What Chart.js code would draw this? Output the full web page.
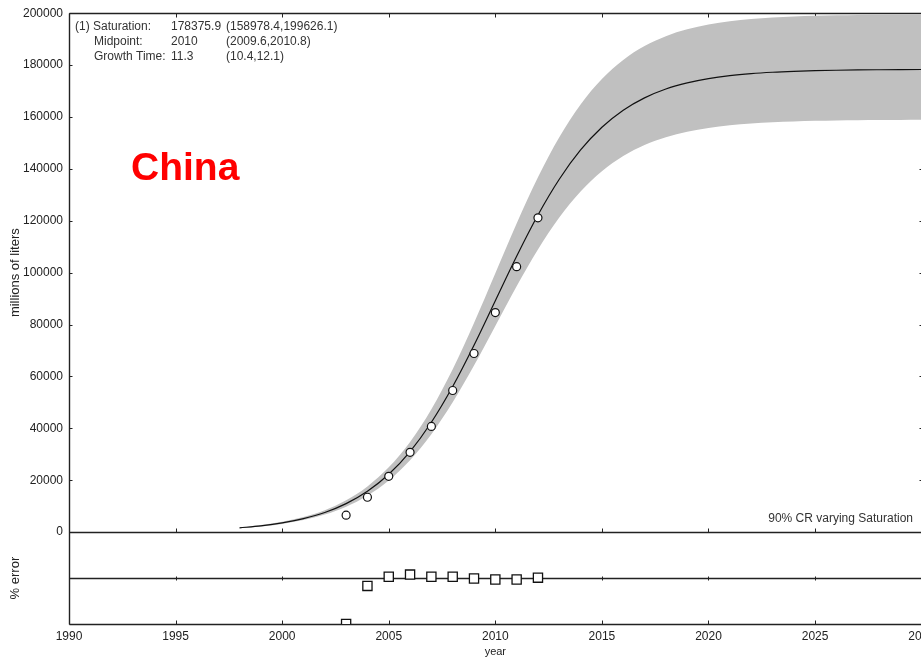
<!DOCTYPE html>
<html>
<head>
<meta charset="utf-8">
<title>China - logistic fit</title>
<script src="https://cdn.jsdelivr.net/npm/chart.js@4"></script>
<style>
  html, body { margin: 0; padding: 0; background: #fff; overflow: hidden; }
  #wrap { width: 940px; height: 657px; }
</style>
</head>
<body>
<div id="wrap"><canvas id="chart" width="940" height="657"></canvas></div>
<script>
// fitted curve, millions of liters
const fitYears = [1998, 1999, 2000, 2001, 2002, 2003, 2004, 2005, 2006, 2007, 2008,
    2009, 2010, 2011, 2012, 2013, 2014, 2015, 2016, 2017, 2018, 2019, 2020,
    2021, 2022, 2023, 2024, 2025, 2026, 2027, 2028, 2029, 2030];
const fitValues = [1660, 2440, 3580, 5230, 7590, 11000, 15760, 22320, 31080, 42370, 56140,
    72040, 89190, 106340, 122230, 136020, 147300, 156050, 162620, 167380, 170780, 173150, 174800,
    175940, 176720, 177250, 177610, 177860, 178020, 178140, 178210, 178270, 178300];
// 90% CR band (varying saturation)
const bandUpper = [1860, 2730, 4010, 5850, 8490, 12310, 17640, 24980, 34780, 47420, 62830,
    80620, 99810, 119000, 136790, 152220, 164840, 174640, 181990, 187320, 191120, 193770, 195620,
    196890, 197760, 198360, 198760, 199040, 199230, 199350, 199440, 199490, 199540];
const bandLower = [1480, 2180, 3190, 4660, 6770, 9800, 14050, 19890, 27700, 37760, 50040,
    64210, 79500, 94780, 108940, 121240, 131290, 139090, 144940, 149190, 152220, 154330, 155800,
    156820, 157510, 157980, 158300, 158520, 158670, 158770, 158840, 158890, 158920];

// observed data
const obsYears = [2003, 2004, 2005, 2006, 2007, 2008, 2009, 2010, 2011, 2012];
const obsValues = [6540, 13460, 21540, 30770, 40770, 54600, 68850, 84620, 102300, 121150];
// residuals (% error)
const errValues = [-50, -8.5, 1.5, 3.8, 1.5, 1.5, -0.5, -1.5, -1.5, 0.5];

// axes
const xTicks = [1990, 1995, 2000, 2005, 2010, 2015, 2020, 2025, 2030];
const yTicks = [0, 20000, 40000, 60000, 80000, 100000, 120000, 140000, 160000, 180000, 200000];

// texts
const fitInfo = [
    ['(1) Saturation:', '178375.9', '(158978.4,199626.1)'],
    ['Midpoint:', '2010', '(2009.6,2010.8)'],
    ['Growth Time:', '11.3', '(10.4,12.1)']
];
const bandNote = '90% CR varying Saturation';
const countryName = 'China';

const FONT = '"Liberation Sans", Arial, sans-serif';
const INK = '#222';

const toXY = (xs, ys) => xs.map((x, i) => ({ x: x, y: ys[i] }));

// frame with inner tick marks (under the markers), then text annotations
const framePlugin = {
    id: 'frame',
    beforeDatasetsDraw(chart) {
        const ctx = chart.ctx;
        const a = chart.chartArea;
        const sx = chart.scales.x, sy = chart.scales.y, se = chart.scales.y2;
        const yMain = Math.round(sy.getPixelForValue(0)) + 0.5;
        const yZero = Math.round(se.getPixelForValue(0)) + 0.5;
        const top = Math.round(a.top) + 0.5, bottom = Math.round(a.bottom) + 0.5;
        const left = Math.round(a.left) + 0.5, right = Math.round(a.right) + 0.5;

        ctx.save();
        ctx.strokeStyle = INK;
        ctx.lineWidth = 1.4;
        ctx.beginPath();
        [top, yMain, yZero, bottom].forEach(y => { ctx.moveTo(left, y); ctx.lineTo(right, y); });
        ctx.moveTo(left, top); ctx.lineTo(left, bottom);
        ctx.moveTo(right, top); ctx.lineTo(right, bottom);
        ctx.stroke();

        ctx.lineWidth = 1;
        ctx.beginPath();
        xTicks.forEach(v => {
            const x = Math.round(sx.getPixelForValue(v)) + 0.5;
            ctx.moveTo(x, top); ctx.lineTo(x, top + 4);
            ctx.moveTo(x, yMain); ctx.lineTo(x, yMain - 4);
            ctx.moveTo(x, yZero - 2); ctx.lineTo(x, yZero + 2);
            ctx.moveTo(x, bottom); ctx.lineTo(x, bottom - 4);
        });
        yTicks.forEach(v => {
            const y = Math.round(sy.getPixelForValue(v)) + 0.5;
            ctx.moveTo(left, y); ctx.lineTo(left + 3, y);
            ctx.moveTo(right, y); ctx.lineTo(right - 3, y);
        });
        ctx.stroke();
        ctx.restore();
    },
    afterDraw(chart) {
        const ctx = chart.ctx;
        const a = chart.chartArea;
        const yMain = chart.scales.y.getPixelForValue(0);

        ctx.save();
        // fit summary, top left
        ctx.fillStyle = '#333';
        ctx.font = '12px ' + FONT;
        ctx.textBaseline = 'middle';
        fitInfo.forEach((row, i) => {
            const y = a.top + 13 + i * 15;
            ctx.fillText(row[0], a.left + (i === 0 ? 6 : 25), y);
            ctx.fillText(row[1], a.left + 102, y);
            ctx.fillText(row[2], a.left + 157, y);
        });

        // band note, bottom right of main panel
        ctx.textAlign = 'right';
        ctx.fillText(bandNote, a.left + 844, yMain - 13);

        // country label
        ctx.textAlign = 'left';
        ctx.fillStyle = '#ff0000';
        ctx.font = 'bold 39px ' + FONT;
        ctx.textBaseline = 'alphabetic';
        ctx.fillText(countryName, a.left + 62, 180);
        ctx.restore();
    }
};

new Chart(document.getElementById('chart'), {
    type: 'line',
    data: {
        datasets: [
            {
                label: 'upper',
                data: toXY(fitYears, bandUpper),
                yAxisID: 'y',
                order: 5,
                borderWidth: 0,
                pointRadius: 0,
                backgroundColor: '#c0c0c0',
                fill: '+1',
                cubicInterpolationMode: 'monotone'
            },
            {
                label: 'lower',
                data: toXY(fitYears, bandLower),
                yAxisID: 'y',
                order: 4,
                borderWidth: 0,
                pointRadius: 0,
                fill: false,
                cubicInterpolationMode: 'monotone'
            },
            {
                label: 'fit',
                data: toXY(fitYears, fitValues),
                yAxisID: 'y',
                order: 2,
                borderColor: '#111',
                borderWidth: 1.2,
                pointRadius: 0,
                fill: false,
                cubicInterpolationMode: 'monotone'
            },
            {
                label: 'observed',
                data: toXY(obsYears, obsValues),
                yAxisID: 'y',
                order: 1,
                showLine: false,
                pointStyle: 'circle',
                pointRadius: 4,
                pointBorderWidth: 1.2,
                pointBorderColor: '#111',
                pointBackgroundColor: '#fff'
            },
            {
                label: '% error',
                data: toXY(obsYears, errValues),
                yAxisID: 'y2',
                order: 0,
                showLine: false,
                pointStyle: 'rect',
                pointRadius: 6.5,
                pointBorderWidth: 1.3,
                pointBorderColor: '#111',
                pointBackgroundColor: '#fff'
            }
        ]
    },
    options: {
        responsive: false,
        animation: false,
        events: [],
        layout: { padding: { left: 0, top: 12, right: 17, bottom: 0 } },
        plugins: {
            legend: { display: false },
            tooltip: { enabled: false }
        },
        scales: {
            x: {
                type: 'linear',
                min: 1990,
                max: 2030,
                grid: { display: false, drawTicks: false },
                border: { display: false },
                afterBuildTicks: s => { s.ticks = xTicks.map(v => ({ value: v })); },
                afterFit: s => { s.height = 33; },
                ticks: {
                    padding: 5,
                    color: INK,
                    font: { family: FONT, size: 12 },
                    maxRotation: 0,
                    callback: v => String(v)
                },
                title: {
                    display: true,
                    text: 'year',
                    color: INK,
                    font: { family: FONT, size: 11 },
                    padding: { top: 0, bottom: -2 }
                }
            },
            y: {
                type: 'linear',
                position: 'left',
                stack: 'panels',
                stackWeight: 520,
                weight: 1,
                min: 0,
                max: 200000,
                grid: { display: false, drawTicks: false },
                border: { display: false },
                afterBuildTicks: s => { s.ticks = yTicks.map(v => ({ value: v })); },
                afterFit: s => { s.width = 69; },
                ticks: {
                    padding: 6,
                    color: INK,
                    font: { family: FONT, size: 12 },
                    callback: v => String(v)
                },
                title: {
                    display: true,
                    text: 'millions of liters',
                    color: INK,
                    font: { family: FONT, size: 13 },
                    padding: { top: 8, bottom: 0 }
                }
            },
            y2: {
                type: 'linear',
                position: 'left',
                stack: 'panels',
                stackWeight: 92,
                weight: 0,
                min: -50,
                max: 50,
                grid: { display: false, drawTicks: false },
                border: { display: false },
                afterFit: s => { s.width = 69; },
                ticks: { display: false },
                title: {
                    display: true,
                    text: '% error',
                    color: INK,
                    font: { family: FONT, size: 13 },
                    padding: { top: 8, bottom: 0 }
                }
            }
        }
    },
    plugins: [framePlugin]
});
</script>
</body>
</html>
